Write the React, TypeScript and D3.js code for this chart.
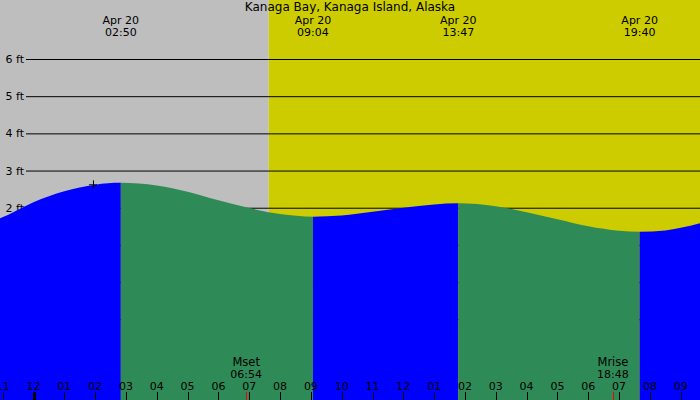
import React from "react";
import * as d3 from "d3";

const title = "Kanaga Bay, Kanaga Island, Alaska";
const tideDates = ["Apr 20", "Apr 20", "Apr 20", "Apr 20"];
const tideTimes = ["02:50", "09:04", "13:47", "19:40"];
const tideKinds = ["high", "low", "high", "low"];

// water level samples (hours since midnight Apr 20, feet)
const sampleHours = [-1.2, -1.1, 0, 1, 2, 2.833, 4, 5, 6, 7, 8, 9.067, 10, 11, 12, 13, 13.783, 15, 16, 17, 18, 19, 19.667, 20.5, 21, 21.7];
const sampleLevels = [1.68, 1.71, 2.15, 2.44, 2.62, 2.67, 2.6, 2.43, 2.2, 1.99, 1.83, 1.76, 1.79, 1.89, 2.0, 2.09, 2.12, 2.04, 1.88, 1.69, 1.5, 1.38, 1.355, 1.39, 1.46, 1.6];

const levelTicks = [6, 5, 4, 3, 2, 1, 0, -1];
const hourTicks = [-1, 0, 1, 2, 3, 4, 5, 6, 7, 8, 9, 10, 11, 12, 13, 14, 15, 16, 17, 18, 19, 20, 21];
const hourLabels = ["11", "12", "01", "02", "03", "04", "05", "06", "07", "08", "09", "10", "11", "12", "01", "02", "03", "04", "05", "06", "07", "08", "09"];

const sunriseTime = "07:38";
const moonEvents = ["Mset", "Mrise"];
const moonTimes = ["06:54", "18:48"];

const nowHour = 1.93;
const nowLevel = 2.63;

const W = 700;
const H = 400;
const FONT = "DejaVu Sans, sans-serif";

const toHours = (s: string) => {
  const [a, b] = s.split(":").map(Number);
  return a + b / 60;
};

export default function App() {
  const x = d3.scaleLinear().domain([-33.5 / 30.82, (W - 33.5) / 30.82]).range([0, W]);
  const y = d3.scaleLinear().domain([0, 6]).range([282.1, 59]);
  const [h0, h1] = x.domain();

  const pts: [number, number][] = sampleHours.map((h, i) => [h, sampleLevels[i]]);
  const area = d3
    .area<[number, number]>()
    .x((d) => x(d[0]))
    .y0(H)
    .y1((d) => y(d[1]))
    .curve(d3.curveMonotoneX);
  const areaPath = area(pts) || "";

  const bounds = [h0, ...tideTimes.map(toHours), h1];
  const segColors = ["#0000ff", "#2e8b57", "#0000ff", "#2e8b57", "#0000ff"];
  const sunX = x(toHours(sunriseTime));

  return (
    <>
      <style>{`body{margin:0}`}</style>
      <svg width={W} height={H} style={{ display: "block" }} fontFamily={FONT}>
        <defs>
          {bounds.slice(0, -1).map((b, i) => (
            <clipPath id={`seg${i}`} key={i}>
              <rect x={x(b)} y={0} width={x(bounds[i + 1]) - x(b)} height={H} />
            </clipPath>
          ))}
        </defs>
        <rect x={0} y={0} width={sunX} height={H} fill="#bebebe" />
        <rect x={sunX} y={0} width={W - sunX} height={H} fill="#cccc00" />
        {levelTicks.map((v) => (
          <g key={v}>
            <line x1={26} x2={W} y1={y(v) + 0.5} y2={y(v) + 0.5} stroke="#000" strokeWidth={1} />
            <text x={24} y={y(v) + 4} textAnchor="end" fontSize={11} fill="#000">
              {`${v} ft`}
            </text>
          </g>
        ))}
        {segColors.map((c, i) => (
          <path key={i} d={areaPath} fill={c} clipPath={`url(#seg${i})`} />
        ))}
        <g stroke="#000" strokeWidth={1}>
          <line x1={x(nowHour) - 4} x2={x(nowHour) + 4} y1={y(nowLevel) + 0.5} y2={y(nowLevel) + 0.5} />
          <line x1={x(nowHour) + 0.5} x2={x(nowHour) + 0.5} y1={y(nowLevel) - 4} y2={y(nowLevel) + 4} />
        </g>
        <text x={W / 2} y={11} textAnchor="middle" fontSize={12} fill="#000">
          {title}
        </text>
        {tideTimes.map((t, i) => (
          <g key={i}>
            <text x={x(toHours(t))} y={24} textAnchor="middle" fontSize={11} fill="#000">
              {tideDates[i]}
            </text>
            <text x={x(toHours(t))} y={36} textAnchor="middle" fontSize={11} fill="#000">
              {t}
            </text>
          </g>
        ))}
        {hourTicks.map((h, i) => (
          <g key={h}>
            <line
              x1={Math.round(x(h)) + 0.5}
              x2={Math.round(x(h)) + 0.5}
              y1={392}
              y2={H}
              stroke="#000"
              strokeWidth={h === 0 ? 3 : 1}
            />
            <text x={x(h)} y={390} textAnchor="middle" fontSize={11} fill="#000">
              {hourLabels[i]}
            </text>
          </g>
        ))}
        {moonTimes.map((t, i) => (
          <g key={i}>
            <line
              x1={Math.round(x(toHours(t))) + 0.5}
              x2={Math.round(x(toHours(t))) + 0.5}
              y1={392}
              y2={H}
              stroke="#ff0000"
              strokeWidth={1}
            />
            <text x={x(toHours(t))} y={366} textAnchor="middle" fontSize={11.5} fill="#000">
              {moonEvents[i]}
            </text>
            <text x={x(toHours(t))} y={378} textAnchor="middle" fontSize={11} fill="#000">
              {t}
            </text>
          </g>
        ))}
      </svg>
    </>
  );
}
